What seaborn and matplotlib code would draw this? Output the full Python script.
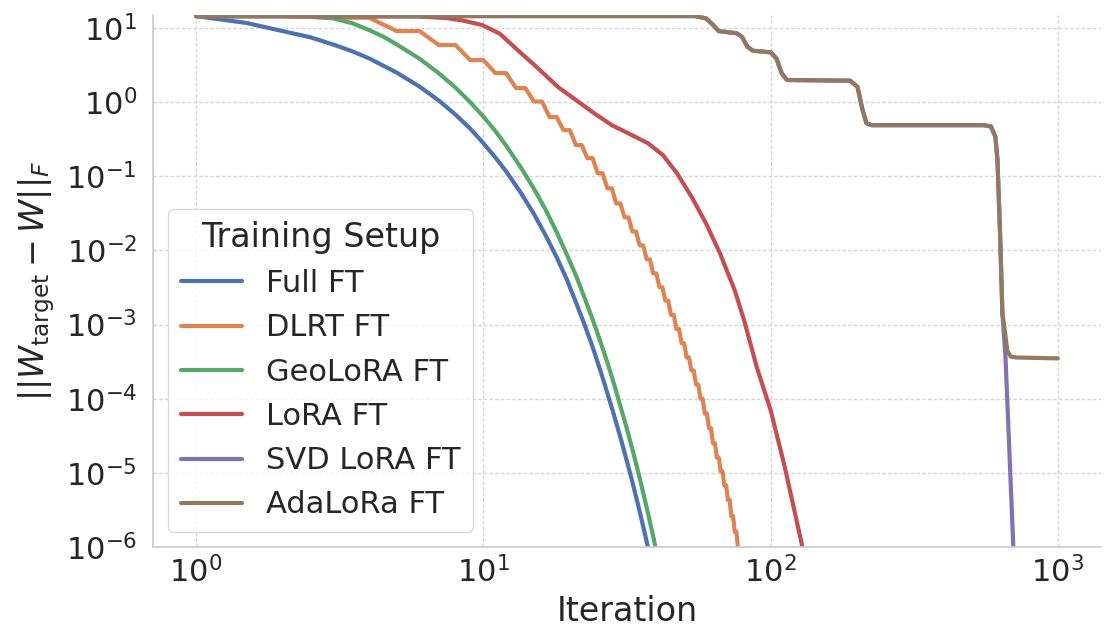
import numpy as np
import pandas as pd
import matplotlib
matplotlib.use("Agg")
import matplotlib.pyplot as plt
import seaborn as sns

# ---------------- data ----------------
series_names = ["Full FT", "DLRT FT", "GeoLoRA FT", "LoRA FT", "SVD LoRA FT", "AdaLoRa FT"]

full_x = [1, 1.5, 2, 2.5, 3, 3.5, 4, 5, 6, 7, 8, 9, 10, 11, 12, 13.5, 15, 16.5, 18, 19.5,
          21, 22.5, 24, 25.5, 27, 28.5, 30, 31.5, 33, 34.5, 36, 37.5, 39]
full_y = [14.5, 11.7, 9.1, 7.5, 6.0, 4.85, 3.9, 2.5, 1.62, 1.05, 0.68, 0.44, 0.28, 0.18,
          0.117, 0.060, 0.031, 0.0158, 8.1e-3, 4.1e-3, 2.0e-3, 1.0e-3, 5.0e-4, 2.45e-4,
          1.2e-4, 6.0e-5, 3.0e-5, 1.5e-5, 7.6e-6, 3.8e-6, 1.9e-6, 9.5e-7, 5e-7]

# DLRT: staircase, each level is held for two iterations (start iteration, level)
dlrt_step_start = [1, 3, 5, 7, 9, 11, 13, 15, 17, 19, 21, 23, 25, 27, 29, 31, 33, 35, 37, 39,
                   41, 43, 45, 47, 49, 51, 53, 55, 57, 59, 61, 63, 65, 67, 69, 71, 73, 75, 77, 79]
dlrt_level = [14.5, 13.8, 9.1, 5.9, 3.7, 2.47, 1.55, 1.02, 0.63, 0.42, 0.264, 0.176, 0.110,
              0.069, 0.043, 0.028, 0.018, 0.0117, 0.0076, 0.0049, 0.0032, 0.0021, 1.35e-3,
              8.7e-4, 5.6e-4, 3.6e-4, 2.4e-4, 1.55e-4, 1.0e-4, 6.3e-5, 4.0e-5, 2.5e-5, 1.6e-5,
              1.05e-5, 6.8e-6, 4.3e-6, 2.6e-6, 1.6e-6, 9.5e-7, 6e-7]

geo_x = [1, 2, 2.5, 3, 3.5, 4, 4.5, 5, 6, 7, 8, 9, 10, 11, 12, 13.5, 15, 16.5, 18, 19.5,
         21, 22.5, 24, 25.5, 27, 28.5, 30, 31.5, 33, 34.5, 36, 37.5, 39, 40.5]
geo_y = [14.5, 14.5, 14.3, 13.5, 11.6, 9.4, 7.6, 6.0, 3.85, 2.45, 1.57, 1.0, 0.64, 0.41,
         0.26, 0.132, 0.068, 0.035, 0.0176, 8.9e-3, 4.6e-3, 2.3e-3, 1.18e-3, 6.0e-4,
         3.1e-4, 1.58e-4, 7.9e-5, 4.1e-5, 2.1e-5, 1.07e-5, 5.4e-6, 2.75e-6, 1.4e-6, 7e-7]

lora_x = [1, 6, 7.5, 8.5, 9.9, 11.4, 13.2, 15.2, 18.2, 21.0, 24.3, 28.0, 32.4, 37.4, 42.2,
          47.2, 53.2, 59.5, 66.6, 75.0, 80.8, 89.5, 100, 112, 129.4, 135]
lora_y = [14.5, 14.3, 13.6, 12.6, 11.0, 8.4, 5.0, 3.07, 1.60, 1.07, 0.71, 0.49, 0.37, 0.28,
          0.193, 0.110, 0.052, 0.0234, 9.2e-3, 2.9e-3, 1.15e-3, 2.66e-4, 7.0e-5, 1.2e-5,
          9.5e-7, 4e-7]

ada_x = [1, 54.6, 59.6, 63.1, 65.9, 70.8, 76.2, 79.5, 83.0, 86.7, 100, 104.7, 109.3, 114,
         189, 200.5, 209, 215.6, 225, 552, 585, 606, 616, 629, 641, 651, 666, 685, 716, 1000]
ada_y = [14.5, 14.5, 13.5, 11.0, 9.1, 8.8, 8.5, 7.6, 5.6, 4.95, 4.7, 3.9, 2.45, 1.99,
         1.95, 1.62, 0.78, 0.52, 0.49, 0.49, 0.47, 0.34, 0.166, 0.017, 1.4e-3, 9.3e-4,
         4.5e-4, 3.7e-4, 3.6e-4, 3.5e-4]

# SVD LoRA follows AdaLoRa (hidden underneath) until the final drop
svd_x = [1, 54.6, 59.6, 63.1, 65.9, 70.8, 76.2, 79.5, 83.0, 86.7, 100, 104.7, 109.3, 114,
         189, 200.5, 209, 215.6, 225, 552, 585, 606, 616, 629, 641, 657, 700, 712]
svd_y = [14.5, 14.5, 13.5, 11.0, 9.1, 8.8, 8.5, 7.6, 5.6, 4.95, 4.7, 3.9, 2.45, 1.99,
         1.95, 1.62, 0.78, 0.52, 0.49, 0.49, 0.47, 0.34, 0.166, 0.017, 1.4e-3, 3.6e-4,
         9.5e-7, 3.5e-7]

# ---------------- build long-form table ----------------
dlrt_x = []
dlrt_y = []
for s, v in zip(dlrt_step_start, dlrt_level):
    dlrt_x += [s, s + 1]
    dlrt_y += [v, v]

frames = []
for name, xs, ys in zip(series_names,
                        [full_x, dlrt_x, geo_x, lora_x, svd_x, ada_x],
                        [full_y, dlrt_y, geo_y, lora_y, svd_y, ada_y]):
    frames.append(pd.DataFrame({"Iteration": xs, "err": ys, "Training Setup": name}))
df = pd.concat(frames, ignore_index=True)

# ---------------- plot ----------------
sns.set_theme(style="whitegrid", context="poster",
              rc={"xtick.major.size": 0, "ytick.major.size": 0,
                  "xtick.major.pad": 6.5, "ytick.major.pad": 11.5,
                  "axes.linewidth": 1.25, "axes.edgecolor": "#cccccc"})
plt.rcParams["font.family"] = ["DejaVu Sans"]

fig = plt.figure(figsize=(11.04, 6.26), dpi=100)
ax = fig.add_axes([153 / 1104, 1 - 547 / 626, (1101 - 153) / 1104, (547 - 15) / 626])

sns.lineplot(data=df, x="Iteration", y="err", hue="Training Setup",
             hue_order=series_names, palette="deep", estimator=None,
             errorbar=None, sort=False, linewidth=3, ax=ax)

ax.set_xscale("log")
ax.set_yscale("log")
ax.set_xlim(10 ** -0.15, 10 ** 3.15)
ax.set_ylim(1e-6, 15.0)
ax.grid(True, which="major", linestyle=(0, (2.5, 1.6)), linewidth=1.0, color="#d6d6d6")
ax.set_xlabel("Iteration", labelpad=5)
ax.set_ylabel(r"$||W_{\mathrm{target}} - W||_F$", labelpad=6)
sns.despine(ax=ax)
leg = ax.legend(title="Training Setup", loc="lower left")
leg.get_frame().set_linewidth(1.0)
leg.get_frame().set_edgecolor("#d0d0d0")

fig.savefig("out.png", dpi=100)
